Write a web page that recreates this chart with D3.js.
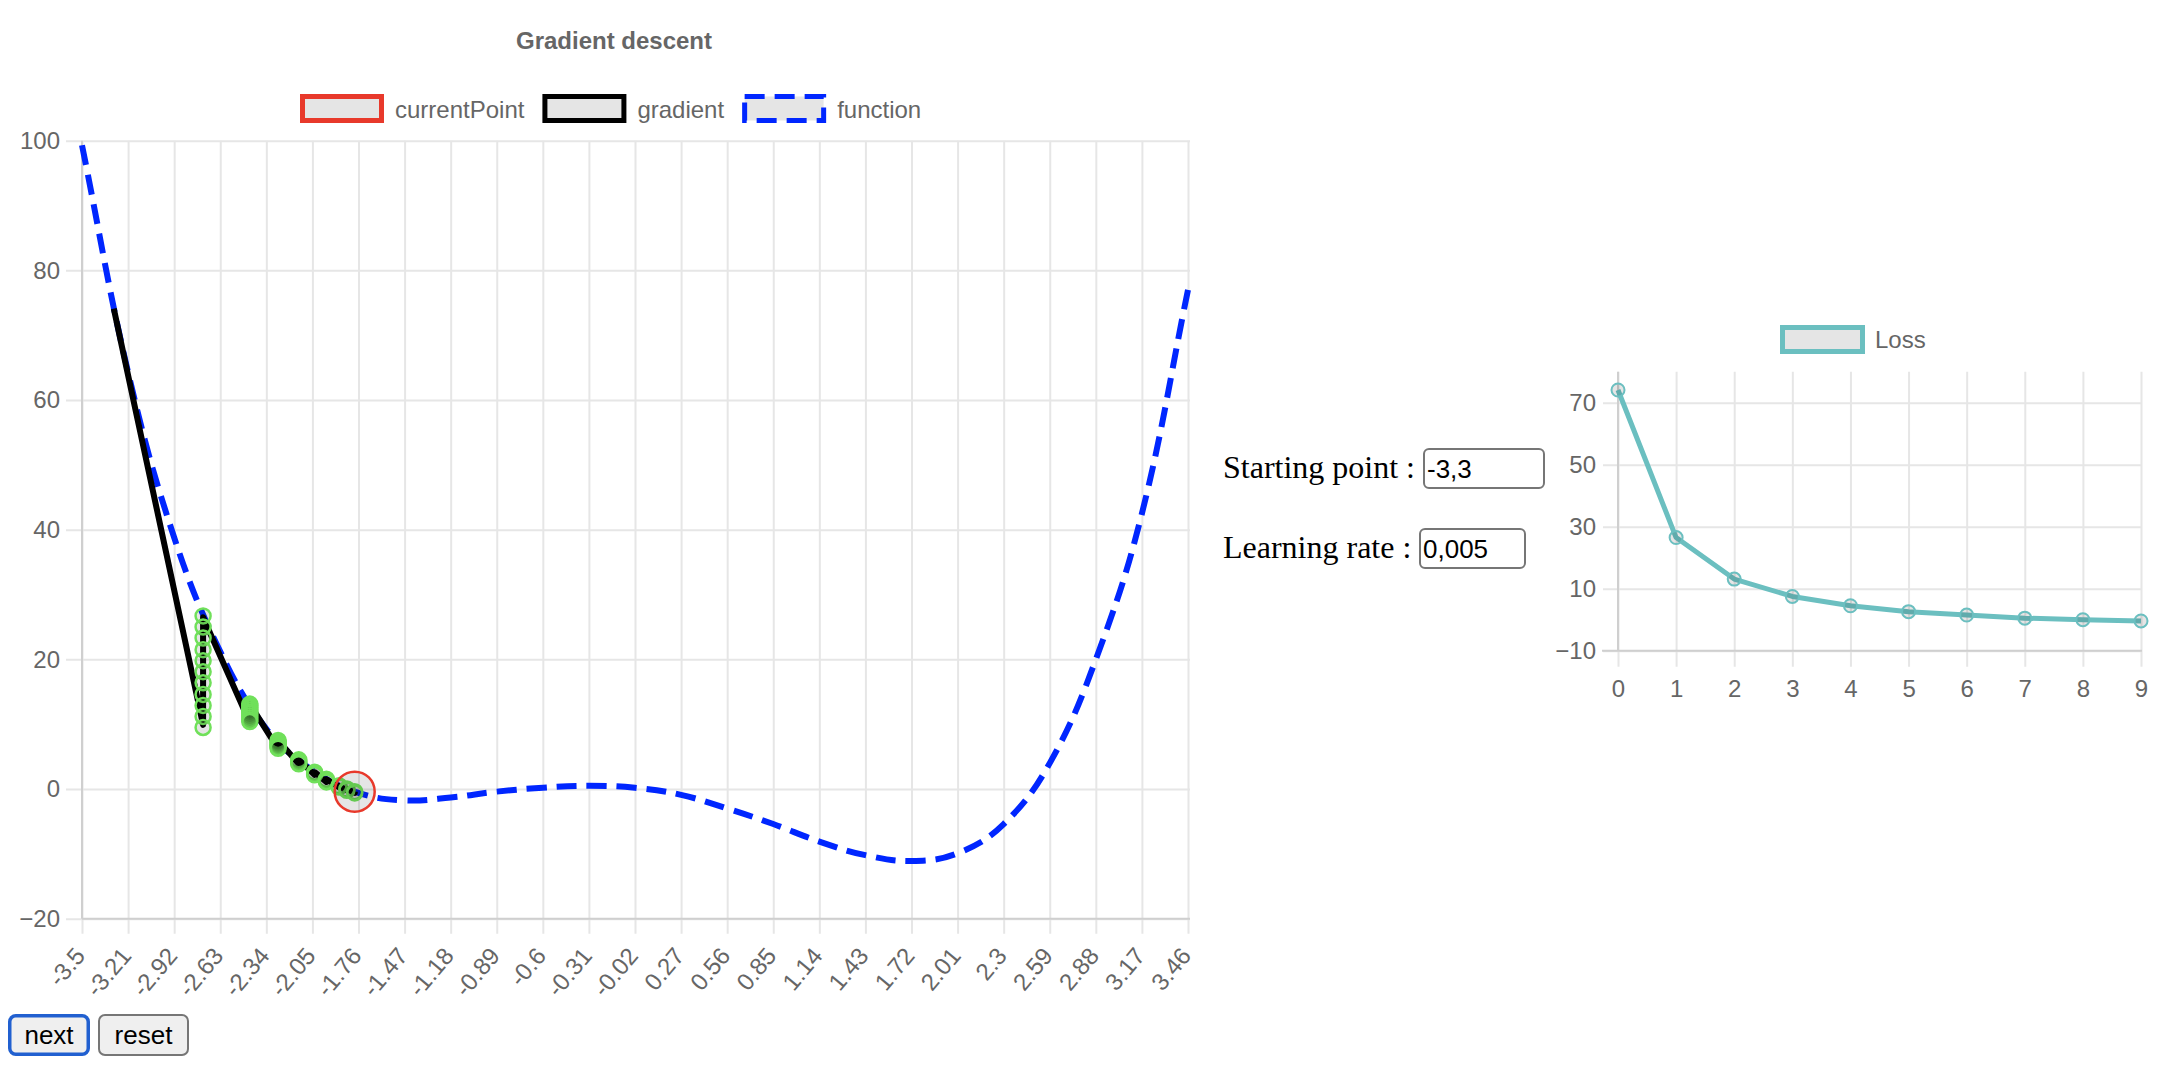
<!DOCTYPE html>
<html>
<head>
<meta charset="utf-8">
<title>Gradient descent</title>
<script src="https://cdn.jsdelivr.net/npm/d3@7"></script>
<style>
  html, body { margin: 0; padding: 0; background: #fff; }
  svg { display: block; }
</style>
</head>
<body>
<svg id="page" width="2182" height="1078"></svg>
<script>
// ---- data ---------------------------------------------------------------
// x positions labelled on the function chart
const tickLabels = ["-3.5","-3.21","-2.92","-2.63","-2.34","-2.05","-1.76","-1.47","-1.18",
  "-0.89","-0.6","-0.31","-0.02","0.27","0.56","0.85","1.14","1.43","1.72","2.01",
  "2.3","2.59","2.88","3.17","3.46"];
// f(x) at each labelled x
const functionValues = [99.3, 64.3, 38.8, 21.2, 9.3, 2.9, -0.6, -1.75, -1.3, -0.4, 0.2, 0.5,
  0.2, -0.9, -3.0, -5.4, -8.1, -10.2, -11.1, -9.9, -5.4, 4.0, 20.0, 42.5, 77.0];
const yTicks = [-20, 0, 20, 40, 60, 80, 100];

// gradient-descent iterates (start -3.3, learning rate 0.005)
const stepX = [-3.3, -2.738, -2.444, -2.266, -2.136, -2.036, -1.962, -1.883, -1.833, -1.784];
const stepLoss = [74.1, 26.5, 13.1, 7.5, 4.5, 2.6, 1.5, 0.5, 0.0, -0.4];
// value of each tangent line where it reaches the next iterate
const tangentEnd = [null, 9.9, 10.2, 6.2, 3.9, 2.2, 1.1, 0.3, -0.2, -0.6];
// point markers of the gradient series, one stack per iterate 1..9
const markerStacks = [
  [26.7, 25.0, 23.3, 21.5, 19.8, 18.1, 16.4, 14.6, 12.9, 11.2, 9.5],
  [13.1, 12.8, 12.5, 12.2, 11.9, 11.6, 11.3, 11.0, 10.7, 10.4],
  [7.5, 7.3, 7.1, 6.9, 6.7, 6.5, 6.3],
  [4.5, 4.3, 4.1, 3.9],
  [2.6, 2.4, 2.2],
  [1.5, 1.3, 1.1],
  [0.5, 0.3],
  [0.0, -0.2],
  [-0.4, -0.6]
];

// loss chart
const lossIterations = [0, 1, 2, 3, 4, 5, 6, 7, 8, 9];
const lossTicks = [-10, 10, 30, 50, 70];

// form values
const startingPoint = "-3,3";
const learningRate = "0,005";

// ---- styles -------------------------------------------------------------
const SANS = "'Liberation Sans', Arial, Helvetica, sans-serif";
const SERIF = "'Liberation Serif', 'Times New Roman', serif";
const GRID = "#e6e6e6";
const AXIS = "#cfcfcf";
const TXT = "#666";
const RED = "#e8392b";
const BLUE = "#0026ff";
const GREEN = "#70e05a";
const TEAL = "#6bbfc0";
const BOXFILL = "rgba(0,0,0,0.1)";
const TENSION = 0.4;

const svg = d3.select("#page");

// Bezier spline through pixel points, control points set by neighbour distances
function splinePath(pts, t) {
  const cps = pts.map((p, i) => {
    const prev = pts[i - 1] || p, next = pts[i + 1] || p;
    const d01 = Math.hypot(p[0] - prev[0], p[1] - prev[1]);
    const d12 = Math.hypot(next[0] - p[0], next[1] - p[1]);
    let s01 = d01 / (d01 + d12), s12 = d12 / (d01 + d12);
    if (isNaN(s01)) s01 = 0;
    if (isNaN(s12)) s12 = 0;
    const fa = t * s01, fb = t * s12;
    return {
      prev: [p[0] - fa * (next[0] - prev[0]), p[1] - fa * (next[1] - prev[1])],
      next: [p[0] + fb * (next[0] - prev[0]), p[1] + fb * (next[1] - prev[1])]
    };
  });
  const path = d3.path();
  path.moveTo(pts[0][0], pts[0][1]);
  for (let i = 1; i < pts.length; i++) {
    path.bezierCurveTo(cps[i - 1].next[0], cps[i - 1].next[1],
      cps[i].prev[0], cps[i].prev[1], pts[i][0], pts[i][1]);
  }
  return path.toString();
}

// ---- function chart -----------------------------------------------------
const tickValues = tickLabels.map(Number);
const x = d3.scaleLinear().domain([tickValues[0], tickValues[tickValues.length - 1]]).range([82, 1188]);
const y = d3.scaleLinear().domain([-20, 100]).range([918.7, 140.7]);

svg.append("text")
  .attr("x", 614).attr("y", 49)
  .attr("text-anchor", "middle")
  .attr("font-family", SANS).attr("font-size", 24).attr("font-weight", "bold")
  .attr("fill", TXT)
  .text("Gradient descent");

// legend
const legendItems = [
  { label: "currentPoint", stroke: RED, dash: null },
  { label: "gradient", stroke: "#000", dash: null },
  { label: "function", stroke: BLUE, dash: "20 10" }
];
let lx0 = 300;
const legend = svg.append("g");
legendItems.forEach(it => {
  legend.append("rect")
    .attr("x", lx0 + 2.5).attr("y", 96.5).attr("width", 79).attr("height", 24)
    .attr("fill", BOXFILL).attr("stroke", it.stroke).attr("stroke-width", 5)
    .attr("stroke-dasharray", it.dash);
  const t = legend.append("text")
    .attr("x", lx0 + 95).attr("y", 118)
    .attr("font-family", SANS).attr("font-size", 24).attr("fill", TXT)
    .text(it.label);
  lx0 = lx0 + 95 + t.node().getComputedTextLength() + 18;
});

// y grid + labels
const yAxis = svg.append("g")
  .attr("transform", "translate(1190,0)")
  .call(d3.axisLeft(y).tickValues(yTicks).tickSize(1124).tickPadding(6).tickFormat(d3.format("d")));
yAxis.select(".domain").remove();
yAxis.selectAll("line").attr("stroke", GRID).attr("stroke-width", 2);
yAxis.selectAll("text").attr("font-family", SANS).attr("font-size", 24).attr("fill", TXT);

// x grid + rotated labels
const xAxis = svg.append("g")
  .attr("transform", "translate(0,140.7)")
  .call(d3.axisBottom(x).tickValues(tickValues).tickSize(793).tickFormat((d, i) => tickLabels[i]));
xAxis.select(".domain").remove();
xAxis.selectAll("line").attr("stroke", GRID).attr("stroke-width", 2);
xAxis.selectAll("text")
  .attr("font-family", SANS).attr("font-size", 24).attr("fill", TXT)
  .attr("x", 0).attr("y", 0).attr("dy", "0.35em")
  .attr("text-anchor", "end")
  .attr("transform", "translate(-2.5," + (951 - 140.7) + ") rotate(-50)");

// axis borders
svg.append("line").attr("x1", x(tickValues[0])).attr("x2", x(tickValues[0]))
  .attr("y1", y(100)).attr("y2", y(-20)).attr("stroke", AXIS).attr("stroke-width", 2);
svg.append("line").attr("x1", 82).attr("x2", 1190)
  .attr("y1", y(-20)).attr("y2", y(-20)).attr("stroke", AXIS).attr("stroke-width", 2);

// function curve
svg.append("path")
  .attr("d", splinePath(tickValues.map((v, i) => [x(v), y(functionValues[i])]), TENSION))
  .attr("fill", "none").attr("stroke", BLUE).attr("stroke-width", 6)
  .attr("stroke-dasharray", "20 10");

// gradient tangent segments
const gradPts = [[stepX[0], stepLoss[0]]];
for (let i = 1; i < stepX.length; i++) {
  gradPts.push([stepX[i], tangentEnd[i]]);
  gradPts.push([stepX[i], stepLoss[i]]);
}
svg.append("path")
  .datum(gradPts)
  .attr("d", d3.line().x(d => x(d[0])).y(d => y(d[1])))
  .attr("fill", "none").attr("stroke", "#000").attr("stroke-width", 6)
  .attr("stroke-linejoin", "round");

// gradient point markers
const markers = [];
markerStacks.forEach((stack, k) => stack.forEach(v => markers.push([stepX[k + 1], v])));
svg.append("g").selectAll("circle")
  .data(markers).join("circle")
  .attr("cx", d => x(d[0])).attr("cy", d => y(d[1])).attr("r", 7.5)
  .attr("fill", BOXFILL).attr("stroke", GREEN).attr("stroke-width", 2.5);

// current point
const last = stepX.length - 1;
svg.append("circle")
  .attr("cx", x(stepX[last])).attr("cy", y(stepLoss[last])).attr("r", 20)
  .attr("fill", BOXFILL).attr("stroke", RED).attr("stroke-width", 2.5);

// ---- controls -----------------------------------------------------------
function button(x0, x1, label, border, bw) {
  svg.append("rect")
    .attr("x", x0 + bw / 2).attr("y", 1014 + bw / 2)
    .attr("width", x1 - x0 - bw).attr("height", 42 - bw)
    .attr("rx", 6).attr("fill", "#efefef").attr("stroke", border).attr("stroke-width", bw);
  svg.append("text")
    .attr("x", (x0 + x1) / 2).attr("y", 1044)
    .attr("text-anchor", "middle")
    .attr("font-family", SANS).attr("font-size", 26).attr("fill", "#000")
    .text(label);
}
button(8, 90, "next", "#2160d0", 3.5);
button(98, 189, "reset", "#767676", 2);

function field(labelText, baseline, boxX0, boxX1, value) {
  svg.append("text")
    .attr("x", 1223).attr("y", baseline)
    .attr("font-family", SERIF).attr("font-size", 32).attr("fill", "#000")
    .text(labelText);
  svg.append("rect")
    .attr("x", boxX0 + 1).attr("y", baseline - 29)
    .attr("width", boxX1 - boxX0 - 2).attr("height", 39)
    .attr("rx", 5).attr("fill", "#fff").attr("stroke", "#767676").attr("stroke-width", 2);
  svg.append("text")
    .attr("x", boxX0 + 4).attr("y", baseline)
    .attr("font-family", SANS).attr("font-size", 26).attr("fill", "#000")
    .text(value);
}
field("Starting point :", 478, 1423, 1545, startingPoint);
field("Learning rate :", 558, 1419, 1526, learningRate);

// ---- loss chart ---------------------------------------------------------
const lxs = d3.scaleLinear().domain([0, 9]).range([1618, 2141]);
const lys = d3.scaleLinear().domain([-10, 80]).range([650.7, 371.7]);

svg.append("rect")
  .attr("x", 1782.5).attr("y", 327.5).attr("width", 80).attr("height", 24)
  .attr("fill", BOXFILL).attr("stroke", TEAL).attr("stroke-width", 5);
svg.append("text")
  .attr("x", 1875).attr("y", 348)
  .attr("font-family", SANS).attr("font-size", 24).attr("fill", TXT)
  .text("Loss");

const lyAxis = svg.append("g")
  .attr("transform", "translate(2141,0)")
  .call(d3.axisLeft(lys).tickValues(lossTicks).tickSize(538).tickPadding(7).tickFormat(d3.format("d")));
lyAxis.select(".domain").remove();
lyAxis.selectAll("line").attr("stroke", GRID).attr("stroke-width", 2);
lyAxis.selectAll("text").attr("font-family", SANS).attr("font-size", 24).attr("fill", TXT);

const lxAxis = svg.append("g")
  .attr("transform", "translate(0,371.7)")
  .call(d3.axisBottom(lxs).tickValues(lossIterations).tickSize(295).tickPadding(13).tickFormat(d3.format("d")));
lxAxis.select(".domain").remove();
lxAxis.selectAll("line").attr("stroke", GRID).attr("stroke-width", 2);
lxAxis.selectAll("text").attr("font-family", SANS).attr("font-size", 24).attr("fill", TXT);

svg.append("line").attr("x1", 1618).attr("x2", 1618)
  .attr("y1", lys(80)).attr("y2", lys(-10)).attr("stroke", AXIS).attr("stroke-width", 2);
svg.append("line").attr("x1", 1602).attr("x2", 2142)
  .attr("y1", lys(-10)).attr("y2", lys(-10)).attr("stroke", AXIS).attr("stroke-width", 2);

// loss per iteration, straight segments between iterations
svg.append("path")
  .datum(lossIterations.map((it, i) => [it, stepLoss[i]]))
  .attr("d", d3.line().x(d => lxs(d[0])).y(d => lys(d[1])))
  .attr("fill", "none").attr("stroke", TEAL).attr("stroke-width", 5)
  .attr("stroke-linejoin", "round");

svg.append("g").selectAll("circle")
  .data(lossIterations.map((it, i) => [it, stepLoss[i]])).join("circle")
  .attr("cx", d => lxs(d[0])).attr("cy", d => lys(d[1])).attr("r", 6.5)
  .attr("fill", BOXFILL).attr("stroke", TEAL).attr("stroke-width", 2);
</script>
</body>
</html>
